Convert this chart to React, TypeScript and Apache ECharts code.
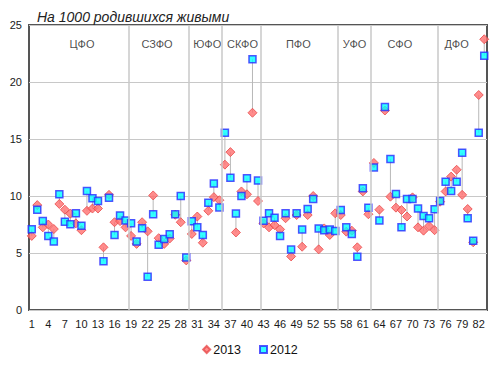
import React, { useEffect, useRef } from "react";
import * as echarts from "echarts";

const regions: string[] = Array.from({ length: 83 }, (_, i) => String(i + 1));

const values2013: number[] = [
  6.5, 9.2, 7.25, 7.5, 7.1, 9.3, 8.8, 8.45, 7.6, 7.0,
  8.7, 8.9, 8.9, 5.5, 10.1, 7.7, 7.8, 7.25, 6.5, 5.8,
  7.7, 6.9, 10.05, 6.3, 5.8, 6.27, 8.35, 7.7, 4.35, 6.67,
  8.2, 5.9, 8.7, 9.9, 9.63, 12.75, 13.85, 6.8, 10.4, 10.15,
  17.3, 9.56, 7.6, 7.25, 7.45, 7.07, 8.05, 4.7, 8.33, 5.55,
  8.33, 10.0, 5.32, 7.16, 6.58, 8.48, 8.33, 6.87, 6.96, 5.5,
  10.4, 8.4, 12.9, 8.8, 17.5, 9.94, 8.98, 8.77, 8.2, 9.88,
  7.25, 6.96, 7.37, 7.0, 9.5, 10.4, 11.7, 12.3, 10.1, 8.86,
  5.94, 18.86, 23.75,
];

const values2012: number[] = [
  7.08, 8.8, 7.8, 6.5, 6.0, 10.15, 7.75, 7.52, 8.48, 7.4,
  10.44, 9.8, 9.56, 4.28, 9.85, 6.58, 8.3, 7.85, 7.62, 6.0,
  7.18, 2.92, 8.4, 5.73, 6.22, 6.65, 8.4, 10.0, 4.6, 7.78,
  7.25, 6.58, 9.4, 11.1, 9.0, 15.55, 11.6, 8.46, 10.0, 11.55,
  22.0, 11.35, 7.83, 8.48, 8.1, 6.5, 8.48, 5.3, 8.48, 7.07,
  8.86, 9.74, 7.16, 7.0, 7.07, 6.93, 8.77, 7.25, 6.67, 4.68,
  10.67, 8.98, 12.5, 7.85, 17.8, 13.25, 10.18, 7.25, 9.74, 9.74,
  8.9, 8.25, 8.04, 8.83, 9.56, 11.26, 10.44, 11.26, 13.8, 8.04,
  6.08, 15.55, 22.3,
];

const districtNames: string[] = ["ЦФО", "СЗФО", "ЮФО", "СКФО", "ПФО", "УФО", "СФО", "ДФО"];
const districtLabelX: number[] = [10.1, 23.7, 32.8, 39.2, 49.3, 59.5, 67.7, 78.0];
const districtBoundaries: number[] = [18.5, 29.5, 35.5, 42.5, 56.5, 62.5, 74.5];
const districtLabelY = 23.3;

const FONT = "'Liberation Sans', Arial, sans-serif";

export default function App() {
  const ref = useRef<HTMLDivElement>(null);

  useEffect(() => {
    if (!ref.current) return;
    const chart = echarts.init(ref.current, undefined, { renderer: "svg" });

    const pairData = regions.map((_, i) => [i + 1, values2013[i], values2012[i]]);

    chart.setOption({
      animation: false,
      backgroundColor: "#ffffff",
      textStyle: { fontFamily: FONT },
      title: {
        text: "На 1000 родившихся живыми",
        left: 32,
        top: 5,
        textStyle: {
          fontFamily: FONT,
          fontStyle: "italic",
          fontWeight: "normal",
          fontSize: 14,
          color: "#222",
        },
      },
      legend: {
        data: [
          { name: "2013", icon: "diamond" },
          { name: "2012", icon: "rect" },
        ],
        left: "center",
        top: 338,
        itemWidth: 7,
        itemHeight: 7,
        itemGap: 18,
        textStyle: { fontFamily: FONT, fontSize: 12.5, color: "#111", padding: [0, 0, 0, -2] },
      },
      grid: {
        left: 29,
        top: 25,
        right: 13,
        bottom: 56,
        show: true,
        borderColor: "#555",
        borderWidth: 2,
        backgroundColor: "transparent",
      },
      xAxis: [
        {
          type: "category",
          data: regions,
          boundaryGap: true,
          axisLine: { show: false },
          axisTick: { show: false },
          splitLine: { show: false },
          axisLabel: {
            interval: 2,
            margin: 8,
            fontSize: 11,
            color: "#1a1a1a",
            fontFamily: FONT,
          },
        },
        {
          type: "value",
          min: 0.5,
          max: 83.5,
          show: false,
          splitLine: { show: false },
        },
      ],
      yAxis: {
        type: "value",
        min: 0,
        max: 25,
        interval: 5,
        axisLine: { show: false },
        axisTick: { show: false },
        axisLabel: { margin: 7, fontSize: 11, color: "#1a1a1a", fontFamily: FONT },
        splitLine: { show: true, lineStyle: { color: "#c8c8c8", width: 1 } },
      },
      series: [
        {
          type: "scatter",
          name: "districts",
          xAxisIndex: 1,
          symbolSize: 0,
          silent: true,
          data: districtNames.map((n, i) => ({ name: n, value: [districtLabelX[i], districtLabelY] })),
          label: {
            show: true,
            position: "inside",
            formatter: (p: any) => p.name,
            fontSize: 11,
            color: "#1a1a1a",
            fontFamily: FONT,
          },
          markLine: {
            silent: true,
            symbol: "none",
            label: { show: false },
            lineStyle: { color: "#c8c8c8", width: 1.5, type: "solid" },
            data: districtBoundaries.map((b) => ({ xAxis: b })),
          },
        },
        {
          type: "custom",
          name: "pairs",
          xAxisIndex: 1,
          silent: true,
          data: pairData,
          renderItem: (_params: any, api: any) => {
            const x = api.value(0);
            const p1 = api.coord([x, api.value(1)]);
            const p2 = api.coord([x, api.value(2)]);
            return {
              type: "line",
              shape: { x1: p1[0], y1: p1[1], x2: p2[0], y2: p2[1] },
              style: { stroke: "#b8b8b8", lineWidth: 1 },
            };
          },
          z: 1,
        },
        {
          type: "scatter",
          name: "2013",
          symbol: "diamond",
          symbolSize: 9,
          data: values2013,
          itemStyle: { color: "#ff6f6f", borderColor: "#e84a4a", borderWidth: 1 },
          z: 3,
        },
        {
          type: "scatter",
          name: "2012",
          symbol: "rect",
          symbolSize: 7,
          data: values2012,
          itemStyle: { color: "#00ffff", borderColor: "#2a2aff", borderWidth: 1.5 },
          z: 4,
        },
      ],
    });

    return () => chart.dispose();
  }, []);

  return (
    <div
      ref={ref}
      style={{ position: "fixed", left: 0, top: 0, width: 500, height: 366, background: "#fff" }}
    />
  );
}
